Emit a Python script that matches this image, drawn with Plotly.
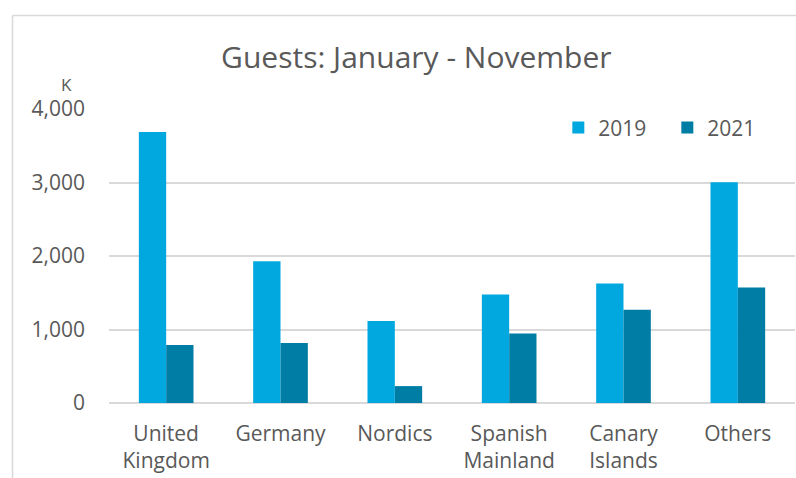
import plotly.graph_objects as go

categories = ["United<br>Kingdom", "Germany", "Nordics", "Spanish<br>Mainland", "Canary<br>Islands", "Others"]
guests_2019 = [3686, 1928, 1115, 1475, 1625, 3005]
guests_2021 = [790, 818, 230, 945, 1270, 1570]
y_ticks = [0, 1000, 2000, 3000, 4000]
y_tick_labels = ["0", "1,000", "2,000", "3,000", "4,000"]

FONT = "Open Sans"
GRAY = "#595959"
GRID = "#d9d9d9"

fig = go.Figure()
fig.add_trace(go.Bar(name="2019", x=categories, y=guests_2019, marker_color="#00A8DF",
                     marker_line_width=0))
fig.add_trace(go.Bar(name="2021", x=categories, y=guests_2021, marker_color="#007DA5",
                     marker_line_width=0))

fig.update_layout(
    width=796, height=478,
    margin=dict(l=108.5, r=1, t=109.3, b=75.3, pad=0, autoexpand=False),
    paper_bgcolor="white", plot_bgcolor="white",
    barmode="group", bargap=0.522, bargroupgap=0,
    font=dict(family=FONT, color=GRAY, size=21),
    title=dict(text="Guests: January - November", font=dict(family=FONT, size=30, color=GRAY),
               x=0.448, xref="paper", xanchor="center",
               y=1 - 57 / 478, yref="container", yanchor="middle"),
    showlegend=True,
    legend=dict(orientation="h", x=0.655, xanchor="left", y=0.936, yanchor="middle",
                font=dict(family=FONT, size=21, color=GRAY), entrywidth=64,
                bgcolor="rgba(0,0,0,0)", traceorder="normal"),
    xaxis=dict(showgrid=False, showline=False, ticks="", zeroline=False, automargin=False,
               ticklabelstandoff=16,
               tickfont=dict(family=FONT, size=21, color=GRAY)),
    yaxis=dict(range=[0, 4000], tickvals=y_ticks, ticktext=y_tick_labels, automargin=False,
               showgrid=True, gridcolor=GRID, gridwidth=1.5,
               zeroline=True, zerolinecolor=GRID, zerolinewidth=1.5,
               showline=False, ticks="", ticklabelstandoff=23,
               tickfont=dict(family=FONT, size=21, color=GRAY)),
)

fig.add_annotation(text="K", x=-0.0619, y=1.083, xref="paper", yref="paper",
                   showarrow=False, xanchor="center", yanchor="middle",
                   font=dict(family=FONT, size=17, color=GRAY))

# chart frame (cropped): left and top edges
fig.add_shape(type="line", xref="paper", yref="paper", x0=-0.1406, x1=-0.1406, y0=-0.4, y1=1.318,
              line=dict(color=GRID, width=1.5))
fig.add_shape(type="line", xref="paper", yref="paper", x0=-0.1406, x1=1.2, y0=1.318, y1=1.318,
              line=dict(color=GRID, width=1.5))

fig.write_html("out.html", config={"displayModeBar": False},
               post_script="document.body.style.margin='0';")
